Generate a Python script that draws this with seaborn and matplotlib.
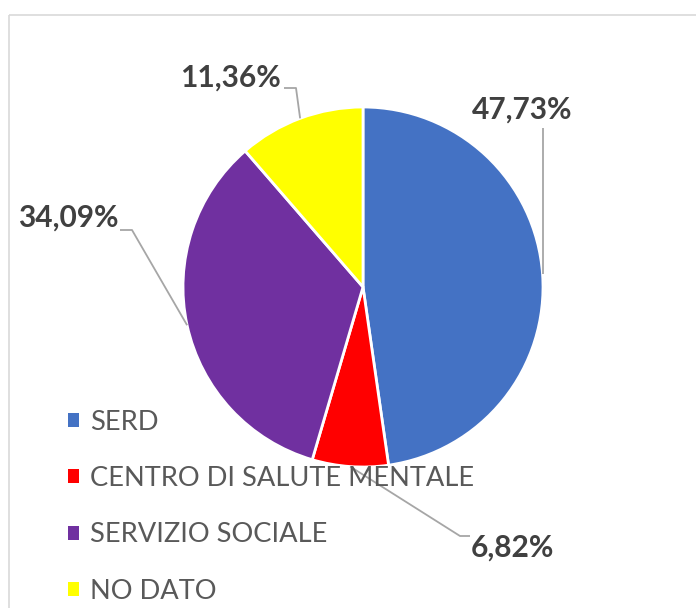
import numpy as np
import matplotlib
matplotlib.use("Agg")
import matplotlib.pyplot as plt
import seaborn as sns
from matplotlib.patches import Rectangle

# data
categories = ["SERD", "CENTRO DI SALUTE MENTALE", "SERVIZIO SOCIALE", "NO DATO"]
values = [47.73, 6.82, 34.09, 11.36]
labels_txt = ["47,73%", "6,82%", "34,09%", "11,36%"]
colors = ["#4472C4", "#FF0000", "#7030A0", "#FFFF00"]

sns.set_style("white")
plt.rcParams["font.family"] = ["Lato", "DejaVu Sans"]

fig = plt.figure(figsize=(6.96, 6.08), dpi=100)
ax = fig.add_axes([0, 0, 1, 1])

cx, cy, r = 363, 287, 180
wedges, _ = ax.pie(values, colors=colors, startangle=-90, counterclock=True,
                   center=(cx, cy), radius=r, frame=True,
                   wedgeprops=dict(edgecolor="white", linewidth=2))
ax.set_xlim(0, 696)
ax.set_ylim(608, 0)
ax.set_aspect("equal")
ax.axis("off")

# chart frame
ax.add_patch(Rectangle((9, 15), 720, 620, fill=False, edgecolor="#d9d9d9", lw=1.2))

# label positions (text centre) and leader elbows
label_pos = [(522, 110), (512, 548), (68, 218), (230, 78)]
elbows = [[(543, 128)],
          [(460, 536), (470, 536)],
          [(132, 230), (120, 230)],
          [(296, 88), (284, 88)]]

for w, txt, pos, elb in zip(wedges, labels_txt, label_pos, elbows):
    mid = np.deg2rad((w.theta1 + w.theta2) / 2)
    anchor = (cx + r * np.cos(mid), cy + r * np.sin(mid))
    if len(elb) == 1:
        pts = [anchor, (anchor[0], elb[0][1])]
    else:
        pts = [anchor] + elb
    xs, ys = zip(*pts)
    ax.plot(xs, ys, color="#a6a6a6", lw=1.3, solid_capstyle="butt")
    ax.text(pos[0], pos[1], txt, ha="center", va="center", fontsize=21.5,
            fontweight="bold", color="#404040")

leg = ax.legend(wedges, categories, loc="upper left", bbox_to_anchor=(0.098, 0.326),
                bbox_transform=fig.transFigure, frameon=False, fontsize=19.6,
                handlelength=0.4, handleheight=0.4, handletextpad=0.4,
                labelspacing=1.15, borderaxespad=0, borderpad=0)
for t in leg.get_texts():
    t.set_color("#595959")
for h in leg.legend_handles:
    h.set_edgecolor("none")

fig.savefig("out.png", dpi=100)
